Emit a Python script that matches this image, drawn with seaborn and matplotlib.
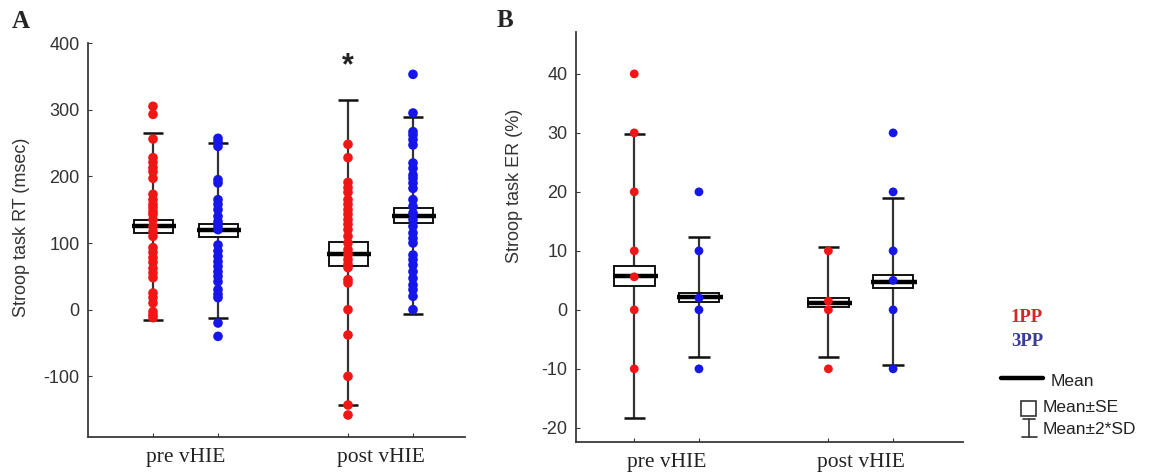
import numpy as np
import pandas as pd
import matplotlib
matplotlib.use("Agg")
import matplotlib.pyplot as plt
import seaborn as sns
from matplotlib.lines import Line2D
from matplotlib.patches import Rectangle

# ---------------- data ----------------
sessions = ["pre vHIE", "post vHIE"]
conditions = ["1PP", "3PP"]

# Panel A: Stroop task RT (msec) individual points
rt_pre_1pp = [305, 293, 256, 228, 221, 213, 207, 197, 173, 165, 158, 153, 147, 143, 135,
              125, 117, 110, 93, 86, 78, 71, 62, 55, 48, 25, 18, 10, -3, -8, -12]
rt_pre_3pp = [257, 252, 245, 195, 190, 165, 158, 150, 140, 132, 125, 120, 97, 88, 80,
              72, 65, 57, 50, 42, 30, 23, 18, -20, -40]
rt_post_1pp = [248, 228, 191, 183, 176, 165, 158, 150, 143, 135, 128, 120, 110, 100, 90,
               83, 75, 68, 63, 45, 40, 0, -38, -100, -143, -158]
rt_post_3pp = [353, 295, 267, 262, 255, 247, 220, 212, 202, 197, 190, 182, 165, 155, 145,
               135, 125, 115, 107, 100, 82, 75, 67, 57, 47, 37, 30, 20, 0]
# summary (order: pre 1PP, pre 3PP, post 1PP, post 3PP)
rt_mean = [125, 119, 83, 141]
rt_se_lo = [115, 109, 66, 130]
rt_se_hi = [135, 129, 102, 152]
rt_sd2_lo = [-15, -12, -143, -6]
rt_sd2_hi = [265, 250, 314, 289]

# Panel B: Stroop task ER (%) individual points
er_pre_1pp = [40, 30, 20, 10, 5.6, 0, -10]
er_pre_3pp = [20, 10, 2, 0, -10]
er_post_1pp = [10, 1.5, 0, -10]
er_post_3pp = [30, 20, 10, 5, 0, -10]
er_mean = [5.7, 2.1, 1.2, 4.8]
er_se_lo = [4.1, 1.4, 0.5, 3.7]
er_se_hi = [7.5, 2.9, 2.0, 5.9]
er_sd2_lo = [-18.4, -8.0, -8.0, -9.3]
er_sd2_hi = [29.8, 12.3, 10.6, 19.0]

# ---------------- style ----------------
sns.set_style("ticks")
plt.rcParams["font.family"] = ["Liberation Sans", "DejaVu Sans"]
plt.rcParams["axes.unicode_minus"] = False
SERIF = ["Liberation Serif", "DejaVu Serif"]
palette = {"1PP": "#f01616", "3PP": "#1616e8"}
AXC = "#3a3a3a"

fig = plt.figure(figsize=(11.51, 4.75), dpi=100)
axA = fig.add_axes([88 / 1151, 1 - 437 / 475, 377 / 1151, 394 / 475])
axB = fig.add_axes([576 / 1151, 1 - 442 / 475, 387 / 1151, 410 / 475])

groups = [(s, c) for s in range(2) for c in range(2)]
pos = np.array([s * 3 + c + 1 for s, c in groups], dtype=float)


def draw_panel(ax, point_lists, mean, se_lo, se_hi, w_lo, w_hi, size, box_w, cap_w):
    rows = []
    for (s, c), p, vals in zip(groups, pos, point_lists):
        for v in vals:
            rows.append({"pos": p, "value": v, "cond": conditions[c]})
    df = pd.DataFrame(rows)
    # whiskers (mean +/- 2SD)
    ax.vlines(pos, w_lo, w_hi, color="#333333", lw=1.6, zorder=1)
    ax.hlines(w_lo, pos - cap_w / 2, pos + cap_w / 2, color="#111111", lw=1.8, zorder=1)
    ax.hlines(w_hi, pos - cap_w / 2, pos + cap_w / 2, color="#111111", lw=1.8, zorder=1)
    # SE boxes
    ax.bar(pos, np.array(se_hi) - np.array(se_lo), bottom=se_lo, width=box_w,
           facecolor="white", edgecolor="#111111", lw=1.4, zorder=2)
    # mean lines
    ax.hlines(mean, pos - box_w / 2 - 0.02, pos + box_w / 2 + 0.05, color="black", lw=3.2, zorder=3)
    sns.scatterplot(data=df, x="pos", y="value", hue="cond", palette=palette, s=size,
                    linewidth=0, legend=False, ax=ax, zorder=4)
    for side in ["top", "right"]:
        ax.spines[side].set_visible(False)
    for side in ["left", "bottom"]:
        ax.spines[side].set_color(AXC)
        ax.spines[side].set_linewidth(1.3)
    ax.set_xticks(pos)
    ax.set_xticklabels([])
    ax.set_xticks([1.5, 4.5], minor=True)
    ax.set_xticklabels(sessions, minor=True, family=SERIF, fontsize=15.5, color="#222222")
    ax.tick_params(axis="x", which="major", direction="in", length=3, color=AXC)
    ax.tick_params(axis="x", which="minor", length=0, pad=8)
    ax.tick_params(axis="y", direction="in", length=3, color=AXC, labelsize=13,
                   labelcolor="#333333", pad=6)
    ax.set_xlabel("")


draw_panel(axA, [rt_pre_1pp, rt_pre_3pp, rt_post_1pp, rt_post_3pp],
           rt_mean, rt_se_lo, rt_se_hi, rt_sd2_lo, rt_sd2_hi, 48, 0.6, 0.32)
axA.set_xlim(0.0, 5.8)
axA.set_ylim(-191, 400)
axA.set_yticks([-100, 0, 100, 200, 300, 400])
axA.set_ylabel("Stroop task RT (msec)", fontsize=13, color="#333333", va="center")
axA.yaxis.set_label_coords(-0.177, 0.533)
axA.text(4, 365, "*", ha="center", va="center", fontsize=22, fontweight="bold", color="#222222")

draw_panel(axB, [er_pre_1pp, er_pre_3pp, er_post_1pp, er_post_3pp],
           er_mean, er_se_lo, er_se_hi, er_sd2_lo, er_sd2_hi, 40, 0.63, 0.33)
axB.set_xlim(0.1, 6.08)
axB.set_ylim(-22.4, 47.1)
axB.set_yticks([-20, -10, 0, 10, 20, 30, 40])
axB.set_ylabel("Stroop task ER (%)", fontsize=13, color="#333333", va="center")
axB.yaxis.set_label_coords(-0.158, 0.624)

# panel letters
fig.text(12 / 1151, 1 - 28 / 475, "A", family=SERIF, fontsize=18, fontweight="bold", va="baseline")
fig.text(497 / 1151, 1 - 27 / 475, "B", family=SERIF, fontsize=18, fontweight="bold", va="baseline")

# legend block
W, H = 1151, 475
fig.text(1011 / W, 1 - 317 / H, "1PP", family=SERIF, fontsize=13.5, fontweight="bold",
         color="#d42626", va="center")
fig.text(1011 / W, 1 - 342 / H, "3PP", family=SERIF, fontsize=13.5, fontweight="bold",
         color="#3a3a9c", va="center")
fig.add_artist(Line2D([1001 / W, 1043 / W], [1 - 378 / H, 1 - 378 / H], color="black", lw=3.2,
                      transform=fig.transFigure))
fig.text(1051 / W, 1 - 381 / H, "Mean", fontsize=12.5, color="#222222", va="center")
fig.add_artist(Rectangle((1021 / W, 1 - 416 / H), 15 / W, 15 / H, fill=False, edgecolor="#333333",
                         lw=1.2, transform=fig.transFigure))
fig.text(1043 / W, 1 - 408 / H, "Mean±SE", fontsize=12.5, color="#222222", va="center")
for seg in [([1029, 1029], [419, 437]), ([1023, 1035], [419, 419]), ([1022, 1037], [437, 437])]:
    fig.add_artist(Line2D([x / W for x in seg[0]], [1 - y / H for y in seg[1]], color="#333333",
                          lw=1.2, transform=fig.transFigure))
fig.text(1043 / W, 1 - 430 / H, "Mean±2*SD", fontsize=12.5, color="#222222", va="center")

fig.savefig("out.png", dpi=100, facecolor="white")
